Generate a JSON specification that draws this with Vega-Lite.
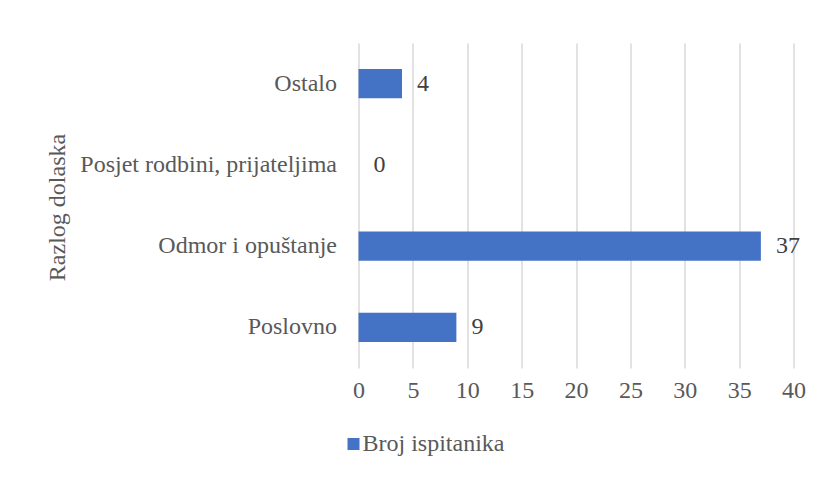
{
  "$schema": "https://vega.github.io/schema/vega-lite/v6.json",
  "width": 435,
  "height": 325,
  "autosize": "none",
  "padding": {"left": 358.5, "top": 43, "right": 26.5, "bottom": 109},
  "background": "white",
  "data": {
    "values": [
      {"razlog": "Ostalo", "broj": 4, "serija": "Broj ispitanika"},
      {"razlog": "Posjet rodbini, prijateljima", "broj": 0, "serija": "Broj ispitanika"},
      {"razlog": "Odmor i opuštanje", "broj": 37, "serija": "Broj ispitanika"},
      {"razlog": "Poslovno", "broj": 9, "serija": "Broj ispitanika"}
    ]
  },
  "config": {
    "font": "Liberation Serif",
    "view": {"stroke": null}
  },
  "encoding": {
    "y": {
      "field": "razlog",
      "type": "nominal",
      "sort": null,
      "scale": {"paddingInner": 0.64, "paddingOuter": 0.32},
      "axis": {
        "title": "Razlog dolaska",
        "titleFont": "Liberation Serif",
        "titleFontSize": 24,
        "titleFontWeight": "normal",
        "titleColor": "#595959",
        "titleAngle": -90,
        "titleBaseline": "middle",
        "titleX": -301,
        "titleY": 164,
        "labelFont": "Liberation Serif",
        "labelFontSize": 24,
        "labelColor": "#595959",
        "labelPadding": 22,
        "labelLimit": 0,
        "domain": false,
        "ticks": false,
        "grid": false
      }
    },
    "x": {
      "field": "broj",
      "type": "quantitative",
      "scale": {"domain": [0, 40], "nice": false},
      "axis": {
        "title": null,
        "values": [0, 5, 10, 15, 20, 25, 30, 35, 40],
        "labelFont": "Liberation Serif",
        "labelFontSize": 24,
        "labelColor": "#595959",
        "labelPadding": 10,
        "labelFlush": false,
        "domain": false,
        "ticks": false,
        "grid": true,
        "gridColor": "#d9d9d9",
        "gridWidth": 1.5
      }
    }
  },
  "layer": [
    {
      "mark": {"type": "bar"},
      "encoding": {
        "color": {
          "field": "serija",
          "type": "nominal",
          "scale": {"range": ["#4472C4"]},
          "legend": {
            "title": null,
            "orient": "none",
            "legendX": -17,
            "legendY": 389,
            "padding": 0,
            "symbolType": "square",
            "symbolSize": 144,
            "symbolStrokeWidth": 0,
            "labelFont": "Liberation Serif",
            "labelFontSize": 24,
            "labelColor": "#595959",
            "labelOffset": -3
          }
        }
      }
    },
    {
      "mark": {"type": "text", "align": "left", "baseline": "middle", "dx": 15, "fontSize": 24, "color": "#404040", "font": "Liberation Serif"},
      "encoding": {
        "text": {"field": "broj", "type": "quantitative"}
      }
    }
  ]
}
